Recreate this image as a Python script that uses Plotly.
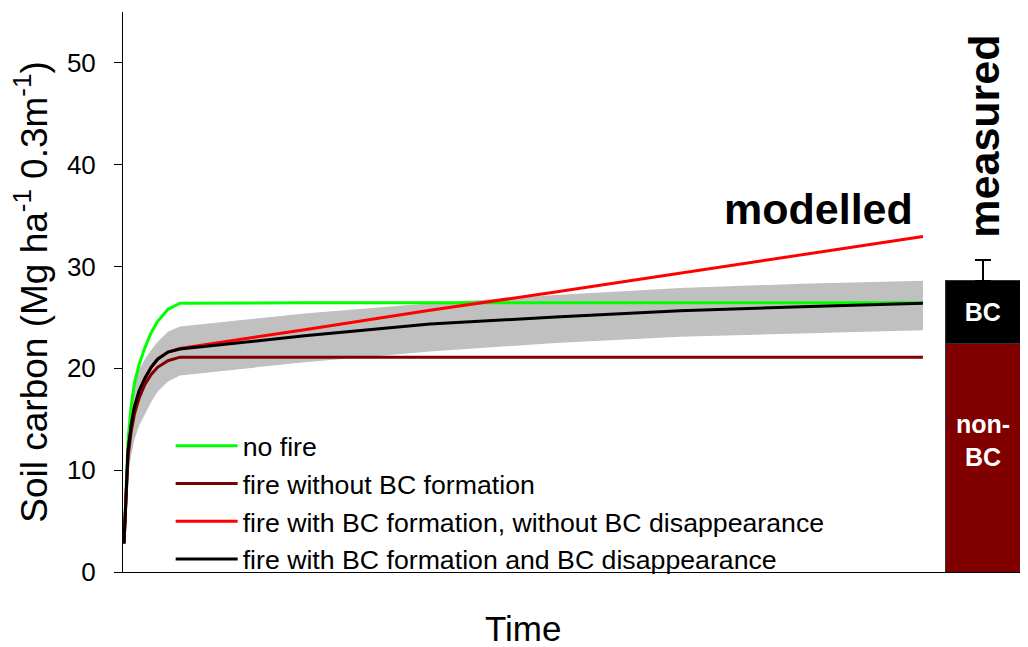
import plotly.graph_objects as go

# model time steps (arbitrary units, no tick labels on the time axis)
time = [0, 0.25, 0.5, 0.9, 1.3, 1.9, 2.6, 3.4, 4.2, 5.5, 7, 22.6, 38.3, 54, 69.6, 84.8, 100]

no_fire = [2.8, 8.5, 12.9, 16.3, 18.5, 20.4, 22.0, 23.5, 24.6, 25.8, 26.4,
           26.45, 26.45, 26.45, 26.45, 26.45, 26.45]
fire_no_bc = [2.8, 7.5, 11.3, 13.8, 15.5, 17.1, 18.4, 19.4, 20.1, 20.75, 21.1,
              21.1, 21.1, 21.1, 21.1, 21.1, 21.1]
fire_bc_no_loss = [2.8, 7.8, 11.9, 14.4, 16.2, 17.8, 19.0, 20.1, 20.9, 21.6, 21.95,
                   23.8, 25.7, 27.5, 29.35, 31.15, 32.95]
fire_bc_loss = [2.8, 7.8, 11.9, 14.4, 16.2, 17.8, 19.0, 20.1, 20.9, 21.6, 21.9,
                23.2, 24.35, 25.05, 25.65, 26.05, 26.4]
band_upper = [2.8, 9.5, 14.0, 16.8, 18.5, 19.9, 20.9, 21.8, 22.6, 23.6, 24.1,
              25.4, 26.4, 27.2, 27.9, 28.3, 28.6]
band_lower = [2.8, 6.3, 9.5, 11.5, 13.0, 14.4, 15.5, 16.7, 17.7, 18.7, 19.3,
              20.6, 21.65, 22.5, 23.1, 23.45, 23.75]

# measured stock
measured_x = 107.5
non_bc = 22.4
bc = 6.2
bc_err = 2.05

fig = go.Figure()

# uncertainty band around the black line
fig.add_trace(go.Scatter(x=time, y=band_lower, mode='lines', line=dict(width=0),
                         showlegend=False, hoverinfo='skip'))
fig.add_trace(go.Scatter(x=time, y=band_upper, mode='lines', line=dict(width=0),
                         fill='tonexty', fillcolor='#c0c0c0',
                         showlegend=False, hoverinfo='skip'))

series = [
    ('no fire', no_fire, '#00ff00'),
    ('fire without BC formation', fire_no_bc, '#800000'),
    ('fire with BC formation, without BC disappearance', fire_bc_no_loss, '#ff0000'),
    ('fire with BC formation and BC disappearance', fire_bc_loss, '#000000'),
]
for name, vals, col in series:
    fig.add_trace(go.Scatter(x=time, y=vals, mode='lines', name=name,
                             line=dict(color=col, width=3)))

# measured bar: non-BC + BC stacked
fig.add_trace(go.Bar(x=[measured_x], y=[non_bc], width=9.45,
                     marker=dict(color='#800000', line=dict(color='#333333', width=1)),
                     showlegend=False))
fig.add_trace(go.Bar(x=[measured_x], y=[bc], width=9.45,
                     marker=dict(color='#000000', line=dict(color='#333333', width=1)),
                     text=['<b>BC</b>'], textposition='inside', insidetextanchor='middle',
                     textangle=0,
                     textfont=dict(color='white', size=25, family='Arial, Liberation Sans'),
                     error_y=dict(type='data', array=[bc_err], arrayminus=[0],
                                  color='black', thickness=1.5, width=8),
                     showlegend=False))

fig.add_annotation(x=measured_x, y=12.9, text='<b>non-<br>BC</b>', showarrow=False,
                   font=dict(size=25, color='white'))
fig.add_annotation(x=86.9, y=35.7, text='<b>modelled</b>', showarrow=False,
                   font=dict(size=43, color='black'))
fig.add_annotation(x=107.7, y=42.8, text='<b>measured</b>', showarrow=False,
                   textangle=-90, font=dict(size=43, color='black'))
fig.add_annotation(x=50, y=-0.1, xref='x', yref='paper', text='Time', showarrow=False,
                   yanchor='middle', font=dict(size=35, color='black'))

# the page body adds an 8px offset, so the figure is sized to fit the window
fig.update_layout(
    width=1020, height=639,
    margin=dict(l=115, r=6, t=4, b=75, autoexpand=False),
    barmode='stack',
    plot_bgcolor='white',
    paper_bgcolor='white',
    font=dict(family='Arial, Liberation Sans', color='black'),
    legend=dict(x=0.053, y=0.268, xanchor='left', yanchor='top', traceorder='normal',
                bgcolor='rgba(0,0,0,0)', font=dict(size=26.7),
                itemwidth=62, tracegroupgap=0),
    xaxis=dict(range=[-0.125, 112.4], showline=True, linecolor='black', linewidth=1,
               showticklabels=False, ticks='', showgrid=False, zeroline=False,
               automargin=False),
    yaxis=dict(range=[0, 55], dtick=10, showline=True, linecolor='black', linewidth=1,
               ticks='outside', ticklen=8, tickcolor='black', automargin=False,
               ticklabelstandoff=13,
               tickfont=dict(size=26), showgrid=False, zeroline=False,
               title=dict(text='Soil carbon (Mg ha<sup>-1</sup> 0.3m<sup>-1</sup>)',
                          font=dict(size=37), standoff=14)),
)

fig.write_html("out.html")
